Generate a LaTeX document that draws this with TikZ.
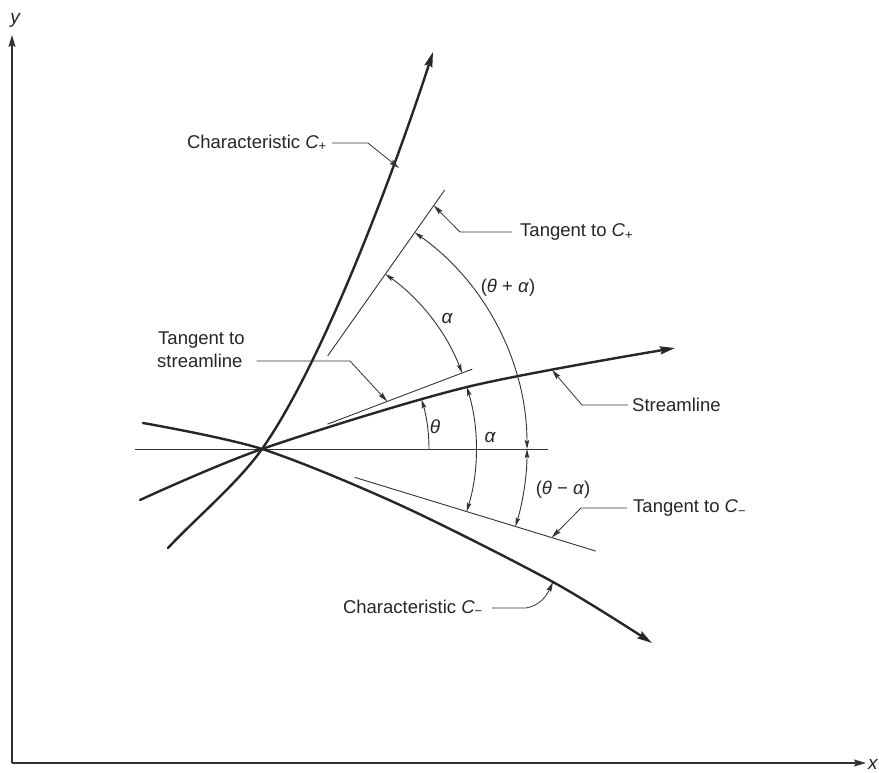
\documentclass[tikz,border=0pt]{standalone}
\usepackage{fontspec}
\setmainfont{Liberation Sans}
\usetikzlibrary{arrows.meta,calc}
\begin{document}
\begin{tikzpicture}[x=1pt,y=1pt,
  thickcurve/.style={line width=2.4pt, draw=black!85, line cap=round, ->, >={Stealth[length=15pt,width=8pt,inset=2pt]}},
  tanline/.style={line width=0.9pt, draw=black!80},
  axisline/.style={line width=1.2pt, draw=black!80, ->, >={Stealth[length=12pt,width=7pt,inset=2pt]}},
  angarc/.style={line width=0.9pt, draw=black!80, >={Stealth[length=9pt,width=4.5pt,inset=1.5pt]}},
  leader/.style={line width=0.8pt, draw=black!80, ->, >={Stealth[length=10pt,width=5pt,inset=1.5pt]}},
  lbl/.style={inner sep=0pt, text=black!85, font=\fontsize{18.5}{21}\selectfont},
  glbl/.style={inner sep=0pt, text=black!85, font=\fontsize{19}{21}\selectfont\itshape},
]
\useasboundingbox[fill=white] (0,0) rectangle (879,772);

% key points
\coordinate (P) at (262,323);
\coordinate (O) at (12,9);
\coordinate (Ytip) at (12,737);
\coordinate (Xtip) at (866,9);

% axes
\draw[axisline] (O) -- (Ytip);
\draw[axisline] (O) -- (Xtip);
\node[glbl] (ylab) at (15,752) {y};
\node[glbl, anchor=west] (xlab) at (868,8) {x};

% horizontal reference line
\coordinate (H1) at (135,323);
\coordinate (H2) at (548,323);
\draw[tanline] (H1) -- (H2);

% tangent lines
\coordinate (TCp1) at ($(P)+(54.8:114)$);
\coordinate (TCp2) at ($(P)+(54.8:317)$);
\coordinate (TS1) at ($(P)+(20.8:70)$);
\coordinate (TS2) at ($(P)+(20.8:225)$);
\coordinate (TCm1) at ($(P)+(-17:97)$);
\coordinate (TCm2) at ($(P)+(-17:349)$);
\draw[tanline] (TCp1) -- (TCp2);
\draw[tanline] (TS1) -- (TS2);
\draw[tanline] (TCm1) -- (TCm2);

% characteristic C+
\coordinate (CpA) at (168,224);
\coordinate (CpB) at (433,720);
\draw[thickcurve] (CpA) .. controls (195,253) and (239,290) .. (P)
   .. controls (325.4,412.9) and (399,615) .. (CpB);
% streamline
\draw[thickcurve] plot[smooth] coordinates {(140,272) (262,323) (467,385) (675,424)};
% characteristic C-
\draw[thickcurve] plot[smooth] coordinates {(143,349) (262,323) (400,267) (553,190) (652,129)};

% angle arcs
\draw[angarc, ->] ($(P)+(0:167)$) arc[start angle=0, end angle=17.3, radius=167];
\draw[angarc, <->] ($(P)+(54.8:214)$) arc[start angle=54.8, end angle=20.8, radius=214];
\draw[angarc, <->] ($(P)+(16.9:214)$) arc[start angle=16.9, end angle=-17, radius=214];
\draw[angarc, <->] ($(P)+(0:265)$) arc[start angle=0, end angle=54.8, radius=265];
\draw[angarc, <->] ($(P)+(0:265)$) arc[start angle=0, end angle=-17, radius=265];

% angle labels
\node[glbl] (th) at (435,345) {θ};
\node[glbl] (a1) at (447,454) {α};
\node[glbl] (a2) at (490,335) {α};
\node[lbl] (tpa) at (508,484) {(\textit{θ} + \textit{α})};
\node[lbl] (tma) at (563,282) {(\textit{θ} − \textit{α})};

% leader targets
\coordinate (kCp) at (399,604);
\coordinate (kTCp) at ($(P)+(54.8:298)$);
\coordinate (kTS) at ($(P)+(20.8:134)$);
\coordinate (kS) at (552,402);
\coordinate (kTCm) at ($(P)+(-17:303)$);
\coordinate (kCm) at (553,190);

% labels with leaders
\node[lbl, anchor=east] (lCp) at (327,629) {Characteristic \textit{C}\textsubscript{+}};
\draw[leader] ([xshift=5pt]lCp.east) -- ++(36,0) -- (kCp);

\node[lbl, anchor=west] (lTCp) at (520,540) {Tangent to \textit{C}\textsubscript{+}};
\draw[leader] ([xshift=-8pt]lTCp.west) -- ++(-52,0) -- (kTCp);

\node[lbl, anchor=west] (lTS1) at (158,432) {Tangent to};
\node[lbl, anchor=west] (lTS2) at (157,411) {streamline};
\draw[leader] ([xshift=14pt]lTS2.east) -- (350,411) -- (kTS);

\node[lbl, anchor=west] (lS) at (632,367) {Streamline};
\draw[leader] ([xshift=-4pt]lS.west) -- ++(-46,0) -- (kS);

\node[lbl, anchor=west] (lTCm) at (633,264) {Tangent to \textit{C}\textsubscript{−}};
\draw[leader] ([xshift=-6pt]lTCm.west) -- ++(-46,0) -- (kTCm);

\node[lbl, anchor=east] (lCm) at (483,164) {Characteristic \textit{C}\textsubscript{−}};
\draw[leader] ([xshift=9pt]lCm.east) -- ++(34,0) to[out=10,in=-115] (kCm);
\end{tikzpicture}
\end{document}
